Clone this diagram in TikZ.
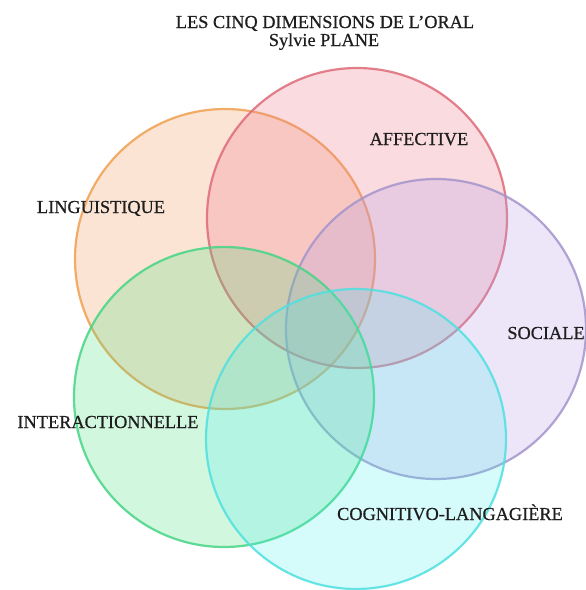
\documentclass[tikz,border=0pt]{standalone}
\usepackage{fontspec}
\setmainfont{Liberation Serif}[FakeBold=0.6]
\newfontfamily\labfont{Liberation Serif}[FakeBold=0.6]
\definecolor{orS}{HTML}{F0A050}
\definecolor{orF}{HTML}{F7975A}
\definecolor{reS}{HTML}{DE6B78}
\definecolor{reF}{HTML}{F07A8C}
\definecolor{puS}{HTML}{A494CC}
\definecolor{puF}{HTML}{B49CE6}
\definecolor{grS}{HTML}{45D585}
\definecolor{grF}{HTML}{45E07A}
\definecolor{cyS}{HTML}{4FE0E0}
\definecolor{cyF}{HTML}{45EEF0}
\definecolor{txt}{HTML}{1E1E1E}
\tikzset{
  ring/.style={circle, minimum size=300pt, inner sep=0pt, line width=2.2pt, draw opacity=0.85},
  lab/.style={anchor=base, inner sep=0pt, text=txt, font=\labfont\fontsize{18.3}{22}\selectfont}
}
\begin{document}
\begin{tikzpicture}[x=1pt,y=-1pt]
\useasboundingbox (0,0) rectangle (586,590);
\fill[white] (0,0) rectangle (586,590);
\node[ring, draw=orS, fill=orF, fill opacity=0.25] (ling) at (225,259) {};
\node[ring, draw=reS, fill=reF, fill opacity=0.27] (affe) at (357,218) {};
\node[ring, draw=puS, fill=puF, fill opacity=0.25] (soci) at (436,329) {};
\node[ring, draw=grS, fill=grF, fill opacity=0.24] (inte) at (224,397) {};
\node[ring, draw=cyS, fill=cyF, fill opacity=0.22] (cogn) at (356,439) {};
\node[lab] (t1) at (325,28) {LES CINQ DIMENSIONS DE L’ORAL};
\node[lab] (t2) at (324,46) {Sylvie PLANE};
\node[lab] (l1) at (101,213) {LINGUISTIQUE};
\node[lab] (l2) at (419,145) {AFFECTIVE};
\node[lab] (l3) at (546,339) {SOCIALE};
\node[lab] (l4) at (108,428) {INTERACTIONNELLE};
\node[lab] (l5) at (450,520) {COGNITIVO-LANGAGIÈRE};
\end{tikzpicture}
\end{document}
